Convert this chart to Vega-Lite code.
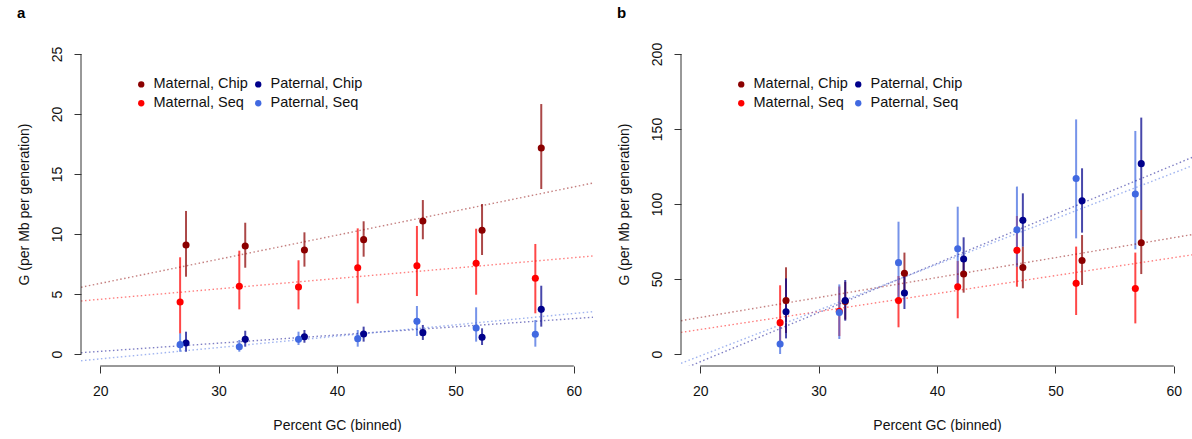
{
  "$schema": "https://vega.github.io/schema/vega-lite/v6.json",
  "padding": {"left": 17, "top": 6, "right": 0, "bottom": 0},
  "background": "white",
  "spacing": 24,
  "config": {
    "view": {"stroke": null},
    "font": "Liberation Sans",
    "axis": {"grid": false, "domain": false, "tickColor": "#333333", "tickSize": 7, "labelFontSize": 14, "titleFontSize": 14, "titleFontWeight": "normal", "labelColor": "#111111", "titleColor": "#111111"},
    "axisX": {"labelPadding": 11, "titlePadding": 20},
    "axisY": {"labelAngle": 270, "labelAlign": "center", "labelBaseline": "bottom", "labelPadding": 10, "titlePadding": 19},
    "title": {"anchor": "start", "frame": "bounds", "fontSize": 15, "fontWeight": "bold", "offset": 21, "color": "#000000"}
  },
  "resolve": {"scale": {"color": "independent", "x": "independent", "y": "independent"}, "legend": {"color": "independent"}},
  "datasets": {
    "points": [
      {"panel": "a", "group": "Maternal, Chip", "gc": 27.25, "g": 9.08, "lo": 6.44, "hi": 11.92},
      {"panel": "a", "group": "Maternal, Chip", "gc": 32.25, "g": 9.0, "lo": 7.19, "hi": 10.94},
      {"panel": "a", "group": "Maternal, Chip", "gc": 37.25, "g": 8.67, "lo": 7.28, "hi": 10.14},
      {"panel": "a", "group": "Maternal, Chip", "gc": 42.25, "g": 9.53, "lo": 8.11, "hi": 11.06},
      {"panel": "a", "group": "Maternal, Chip", "gc": 47.25, "g": 11.08, "lo": 9.56, "hi": 12.83},
      {"panel": "a", "group": "Maternal, Chip", "gc": 52.25, "g": 10.31, "lo": 8.25, "hi": 12.5},
      {"panel": "a", "group": "Maternal, Chip", "gc": 57.25, "g": 17.17, "lo": 13.75, "hi": 20.83},
      {"panel": "a", "group": "Maternal, Seq", "gc": 26.75, "g": 4.33, "lo": 1.7, "hi": 8.06},
      {"panel": "a", "group": "Maternal, Seq", "gc": 31.75, "g": 5.64, "lo": 3.72, "hi": 8.61},
      {"panel": "a", "group": "Maternal, Seq", "gc": 36.75, "g": 5.58, "lo": 3.72, "hi": 7.81},
      {"panel": "a", "group": "Maternal, Seq", "gc": 41.75, "g": 7.19, "lo": 4.22, "hi": 10.47},
      {"panel": "a", "group": "Maternal, Seq", "gc": 46.75, "g": 7.36, "lo": 4.83, "hi": 10.67},
      {"panel": "a", "group": "Maternal, Seq", "gc": 51.75, "g": 7.56, "lo": 4.94, "hi": 10.44},
      {"panel": "a", "group": "Maternal, Seq", "gc": 56.75, "g": 6.31, "lo": 3.39, "hi": 9.17},
      {"panel": "a", "group": "Paternal, Chip", "gc": 27.25, "g": 0.92, "lo": 0.19, "hi": 1.86},
      {"panel": "a", "group": "Paternal, Chip", "gc": 32.25, "g": 1.22, "lo": 0.61, "hi": 1.94},
      {"panel": "a", "group": "Paternal, Chip", "gc": 37.25, "g": 1.44, "lo": 0.94, "hi": 2.0},
      {"panel": "a", "group": "Paternal, Chip", "gc": 42.25, "g": 1.67, "lo": 1.03, "hi": 2.28},
      {"panel": "a", "group": "Paternal, Chip", "gc": 47.25, "g": 1.78, "lo": 1.17, "hi": 2.42},
      {"panel": "a", "group": "Paternal, Chip", "gc": 52.25, "g": 1.39, "lo": 0.75, "hi": 2.14},
      {"panel": "a", "group": "Paternal, Chip", "gc": 57.25, "g": 3.72, "lo": 2.28, "hi": 5.69},
      {"panel": "a", "group": "Paternal, Seq", "gc": 26.75, "g": 0.78, "lo": 0.19, "hi": 1.72},
      {"panel": "a", "group": "Paternal, Seq", "gc": 31.75, "g": 0.61, "lo": 0.19, "hi": 1.17},
      {"panel": "a", "group": "Paternal, Seq", "gc": 36.75, "g": 1.22, "lo": 0.75, "hi": 1.86},
      {"panel": "a", "group": "Paternal, Seq", "gc": 41.75, "g": 1.28, "lo": 0.61, "hi": 2.0},
      {"panel": "a", "group": "Paternal, Seq", "gc": 46.75, "g": 2.72, "lo": 1.5, "hi": 4.0},
      {"panel": "a", "group": "Paternal, Seq", "gc": 51.75, "g": 2.17, "lo": 1.03, "hi": 3.89},
      {"panel": "a", "group": "Paternal, Seq", "gc": 56.75, "g": 1.64, "lo": 0.61, "hi": 2.83},
      {"panel": "b", "group": "Maternal, Chip", "gc": 27.25, "g": 35.6, "lo": 14, "hi": 57.8},
      {"panel": "b", "group": "Maternal, Chip", "gc": 32.25, "g": 35.0, "lo": 23, "hi": 48},
      {"panel": "b", "group": "Maternal, Chip", "gc": 37.25, "g": 53.8, "lo": 41, "hi": 67.6},
      {"panel": "b", "group": "Maternal, Chip", "gc": 42.25, "g": 53.3, "lo": 40.9, "hi": 65},
      {"panel": "b", "group": "Maternal, Chip", "gc": 47.25, "g": 57.6, "lo": 43.8, "hi": 71.6},
      {"panel": "b", "group": "Maternal, Chip", "gc": 52.25, "g": 62.3, "lo": 46, "hi": 79.3},
      {"panel": "b", "group": "Maternal, Chip", "gc": 57.25, "g": 74.2, "lo": 53.3, "hi": 96},
      {"panel": "b", "group": "Maternal, Seq", "gc": 26.75, "g": 20.9, "lo": 5, "hi": 45.8},
      {"panel": "b", "group": "Maternal, Seq", "gc": 31.75, "g": 28.5, "lo": 12, "hi": 45},
      {"panel": "b", "group": "Maternal, Seq", "gc": 36.75, "g": 35.6, "lo": 17.8, "hi": 52},
      {"panel": "b", "group": "Maternal, Seq", "gc": 41.75, "g": 44.8, "lo": 23.8, "hi": 62},
      {"panel": "b", "group": "Maternal, Seq", "gc": 46.75, "g": 69.1, "lo": 44.9, "hi": 92},
      {"panel": "b", "group": "Maternal, Seq", "gc": 51.75, "g": 47.1, "lo": 26, "hi": 71.6},
      {"panel": "b", "group": "Maternal, Seq", "gc": 56.75, "g": 43.6, "lo": 20.4, "hi": 67.6},
      {"panel": "b", "group": "Paternal, Chip", "gc": 27.25, "g": 28.2, "lo": 10.4, "hi": 50.4},
      {"panel": "b", "group": "Paternal, Chip", "gc": 32.25, "g": 35.6, "lo": 22.2, "hi": 49.3},
      {"panel": "b", "group": "Paternal, Chip", "gc": 37.25, "g": 40.7, "lo": 30, "hi": 53},
      {"panel": "b", "group": "Paternal, Chip", "gc": 42.25, "g": 63.3, "lo": 51.6, "hi": 77.8},
      {"panel": "b", "group": "Paternal, Chip", "gc": 47.25, "g": 89.1, "lo": 71.6, "hi": 107.1},
      {"panel": "b", "group": "Paternal, Chip", "gc": 52.25, "g": 102.1, "lo": 80.9, "hi": 123.8},
      {"panel": "b", "group": "Paternal, Chip", "gc": 57.25, "g": 126.9, "lo": 96, "hi": 157.6},
      {"panel": "b", "group": "Paternal, Seq", "gc": 26.75, "g": 6.7, "lo": 0, "hi": 18.2},
      {"panel": "b", "group": "Paternal, Seq", "gc": 31.75, "g": 27.6, "lo": 10, "hi": 46.4},
      {"panel": "b", "group": "Paternal, Seq", "gc": 36.75, "g": 60.9, "lo": 36, "hi": 88.2},
      {"panel": "b", "group": "Paternal, Seq", "gc": 41.75, "g": 70.2, "lo": 45, "hi": 98.2},
      {"panel": "b", "group": "Paternal, Seq", "gc": 46.75, "g": 82.8, "lo": 58.2, "hi": 111.6},
      {"panel": "b", "group": "Paternal, Seq", "gc": 51.75, "g": 117, "lo": 77.1, "hi": 156.4},
      {"panel": "b", "group": "Paternal, Seq", "gc": 56.75, "g": 106.7, "lo": 69.8, "hi": 148.7}
    ],
    "fits": [
      {"panel": "a", "group": "Maternal, Chip", "gc": 18.38, "g": 5.56},
      {"panel": "a", "group": "Maternal, Chip", "gc": 61.62, "g": 14.25},
      {"panel": "a", "group": "Maternal, Seq", "gc": 18.38, "g": 4.42},
      {"panel": "a", "group": "Maternal, Seq", "gc": 61.62, "g": 8.17},
      {"panel": "a", "group": "Paternal, Chip", "gc": 18.38, "g": 0.11},
      {"panel": "a", "group": "Paternal, Chip", "gc": 61.62, "g": 3.06},
      {"panel": "a", "group": "Paternal, Seq", "gc": 18.38, "g": -0.56},
      {"panel": "a", "group": "Paternal, Seq", "gc": 61.62, "g": 3.53},
      {"panel": "b", "group": "Maternal, Chip", "gc": 18.38, "g": 22.2},
      {"panel": "b", "group": "Maternal, Chip", "gc": 61.62, "g": 79.7},
      {"panel": "b", "group": "Maternal, Seq", "gc": 18.38, "g": 14.4},
      {"panel": "b", "group": "Maternal, Seq", "gc": 61.62, "g": 66.2},
      {"panel": "b", "group": "Paternal, Chip", "gc": 18.38, "g": -10.5},
      {"panel": "b", "group": "Paternal, Chip", "gc": 61.62, "g": 131.3},
      {"panel": "b", "group": "Paternal, Seq", "gc": 18.38, "g": -6.2},
      {"panel": "b", "group": "Paternal, Seq", "gc": 61.62, "g": 125.7}
    ]
  },
  "hconcat": [
    {
      "width": 512,
      "height": 324,
      "title": {"text": "a"},
      "layer": [
        {
          "data": {"name": "points"},
          "transform": [{"filter": "datum.panel == 'a'"}],
          "mark": {"type": "rule", "strokeWidth": 2, "opacity": 0.72},
          "encoding": {
            "x": {"field": "gc", "type": "quantitative", "title": "Percent GC (binned)", "scale": {"domain": [18.38, 61.62], "nice": false, "zero": false}, "axis": {"values": [20, 30, 40, 50, 60]}},
            "y": {"field": "lo", "type": "quantitative", "title": "G (per Mb per generation)", "scale": {"domain": [-1, 26], "nice": false, "zero": false}, "axis": {"values": [0, 5, 10, 15, 20, 25]}},
            "y2": {"field": "hi"},
            "color": {"field": "group", "type": "nominal", "scale": {"domain": ["Maternal, Chip", "Maternal, Seq", "Paternal, Chip", "Paternal, Seq"], "range": ["#8B0000", "#FF0000", "#00008B", "#4169E1"]},
              "legend": {"title": null, "orient": "none", "legendX": 53, "legendY": 35, "columns": 2, "labelFontSize": 14.5, "symbolSize": 40, "symbolType": "circle", "labelOffset": 5, "columnPadding": 3, "rowPadding": 4, "padding": 0, "symbolStrokeWidth": 0, "symbolOpacity": 1, "labelColor": "#111111", "labelLimit": 300,
                "encode": {"symbols": {"update": {"opacity": {"value": 1}, "fillOpacity": {"value": 1}}}}}}
          }
        },
        {
          "data": {"name": "fits"},
          "transform": [{"filter": "datum.panel == 'a'"}],
          "mark": {"type": "line", "strokeWidth": 1.4, "strokeDash": [1.5, 2.5], "opacity": 0.5, "clip": true},
          "encoding": {
            "x": {"field": "gc", "type": "quantitative", "title": "Percent GC (binned)"},
            "y": {"field": "g", "type": "quantitative", "title": "G (per Mb per generation)"},
            "color": {"field": "group", "type": "nominal"},
            "detail": {"field": "group"}
          }
        },
        {
          "data": {"name": "points"},
          "transform": [{"filter": "datum.panel == 'a'"}],
          "mark": {"type": "point", "filled": true, "size": 50, "opacity": 1},
          "encoding": {
            "x": {"field": "gc", "type": "quantitative", "title": "Percent GC (binned)"},
            "y": {"field": "g", "type": "quantitative", "title": "G (per Mb per generation)"},
            "color": {"field": "group", "type": "nominal"}
          }
        },
        {
          "data": {"values": [{}]},
          "mark": {"type": "rule", "color": "#333333", "strokeWidth": 1},
          "encoding": {
            "x": {"datum": 20, "type": "quantitative", "title": "Percent GC (binned)"},
            "x2": {"datum": 60},
            "y": {"datum": -1, "type": "quantitative", "title": "G (per Mb per generation)"}
          }
        },
        {
          "data": {"values": [{}]},
          "mark": {"type": "rule", "color": "#333333", "strokeWidth": 1},
          "encoding": {
            "x": {"datum": 18.38, "type": "quantitative", "title": "Percent GC (binned)"},
            "y": {"datum": 0, "type": "quantitative", "title": "G (per Mb per generation)"},
            "y2": {"datum": 25}
          }
        }
      ]
    },
    {
      "width": 512,
      "height": 324,
      "title": {"text": "b"},
      "layer": [
        {
          "data": {"name": "points"},
          "transform": [{"filter": "datum.panel == 'b'"}],
          "mark": {"type": "rule", "strokeWidth": 2, "opacity": 0.72},
          "encoding": {
            "x": {"field": "gc", "type": "quantitative", "title": "Percent GC (binned)", "scale": {"domain": [18.38, 61.62], "nice": false, "zero": false}, "axis": {"values": [20, 30, 40, 50, 60]}},
            "y": {"field": "lo", "type": "quantitative", "title": "G (per Mb per generation)", "scale": {"domain": [-8, 208], "nice": false, "zero": false}, "axis": {"values": [0, 50, 100, 150, 200]}},
            "y2": {"field": "hi"},
            "color": {"field": "group", "type": "nominal", "scale": {"domain": ["Maternal, Chip", "Maternal, Seq", "Paternal, Chip", "Paternal, Seq"], "range": ["#8B0000", "#FF0000", "#00008B", "#4169E1"]},
              "legend": {"title": null, "orient": "none", "legendX": 53, "legendY": 35, "columns": 2, "labelFontSize": 14.5, "symbolSize": 40, "symbolType": "circle", "labelOffset": 5, "columnPadding": 3, "rowPadding": 4, "padding": 0, "symbolStrokeWidth": 0, "symbolOpacity": 1, "labelColor": "#111111", "labelLimit": 300,
                "encode": {"symbols": {"update": {"opacity": {"value": 1}, "fillOpacity": {"value": 1}}}}}}
          }
        },
        {
          "data": {"name": "fits"},
          "transform": [{"filter": "datum.panel == 'b'"}],
          "mark": {"type": "line", "strokeWidth": 1.4, "strokeDash": [1.5, 2.5], "opacity": 0.5, "clip": true},
          "encoding": {
            "x": {"field": "gc", "type": "quantitative", "title": "Percent GC (binned)"},
            "y": {"field": "g", "type": "quantitative", "title": "G (per Mb per generation)"},
            "color": {"field": "group", "type": "nominal"},
            "detail": {"field": "group"}
          }
        },
        {
          "data": {"name": "points"},
          "transform": [{"filter": "datum.panel == 'b'"}],
          "mark": {"type": "point", "filled": true, "size": 50, "opacity": 1},
          "encoding": {
            "x": {"field": "gc", "type": "quantitative", "title": "Percent GC (binned)"},
            "y": {"field": "g", "type": "quantitative", "title": "G (per Mb per generation)"},
            "color": {"field": "group", "type": "nominal"}
          }
        },
        {
          "data": {"values": [{}]},
          "mark": {"type": "rule", "color": "#333333", "strokeWidth": 1},
          "encoding": {
            "x": {"datum": 20, "type": "quantitative", "title": "Percent GC (binned)"},
            "x2": {"datum": 60},
            "y": {"datum": -8, "type": "quantitative", "title": "G (per Mb per generation)"}
          }
        },
        {
          "data": {"values": [{}]},
          "mark": {"type": "rule", "color": "#333333", "strokeWidth": 1},
          "encoding": {
            "x": {"datum": 18.38, "type": "quantitative", "title": "Percent GC (binned)"},
            "y": {"datum": 0, "type": "quantitative", "title": "G (per Mb per generation)"},
            "y2": {"datum": 200}
          }
        }
      ]
    }
  ]
}
